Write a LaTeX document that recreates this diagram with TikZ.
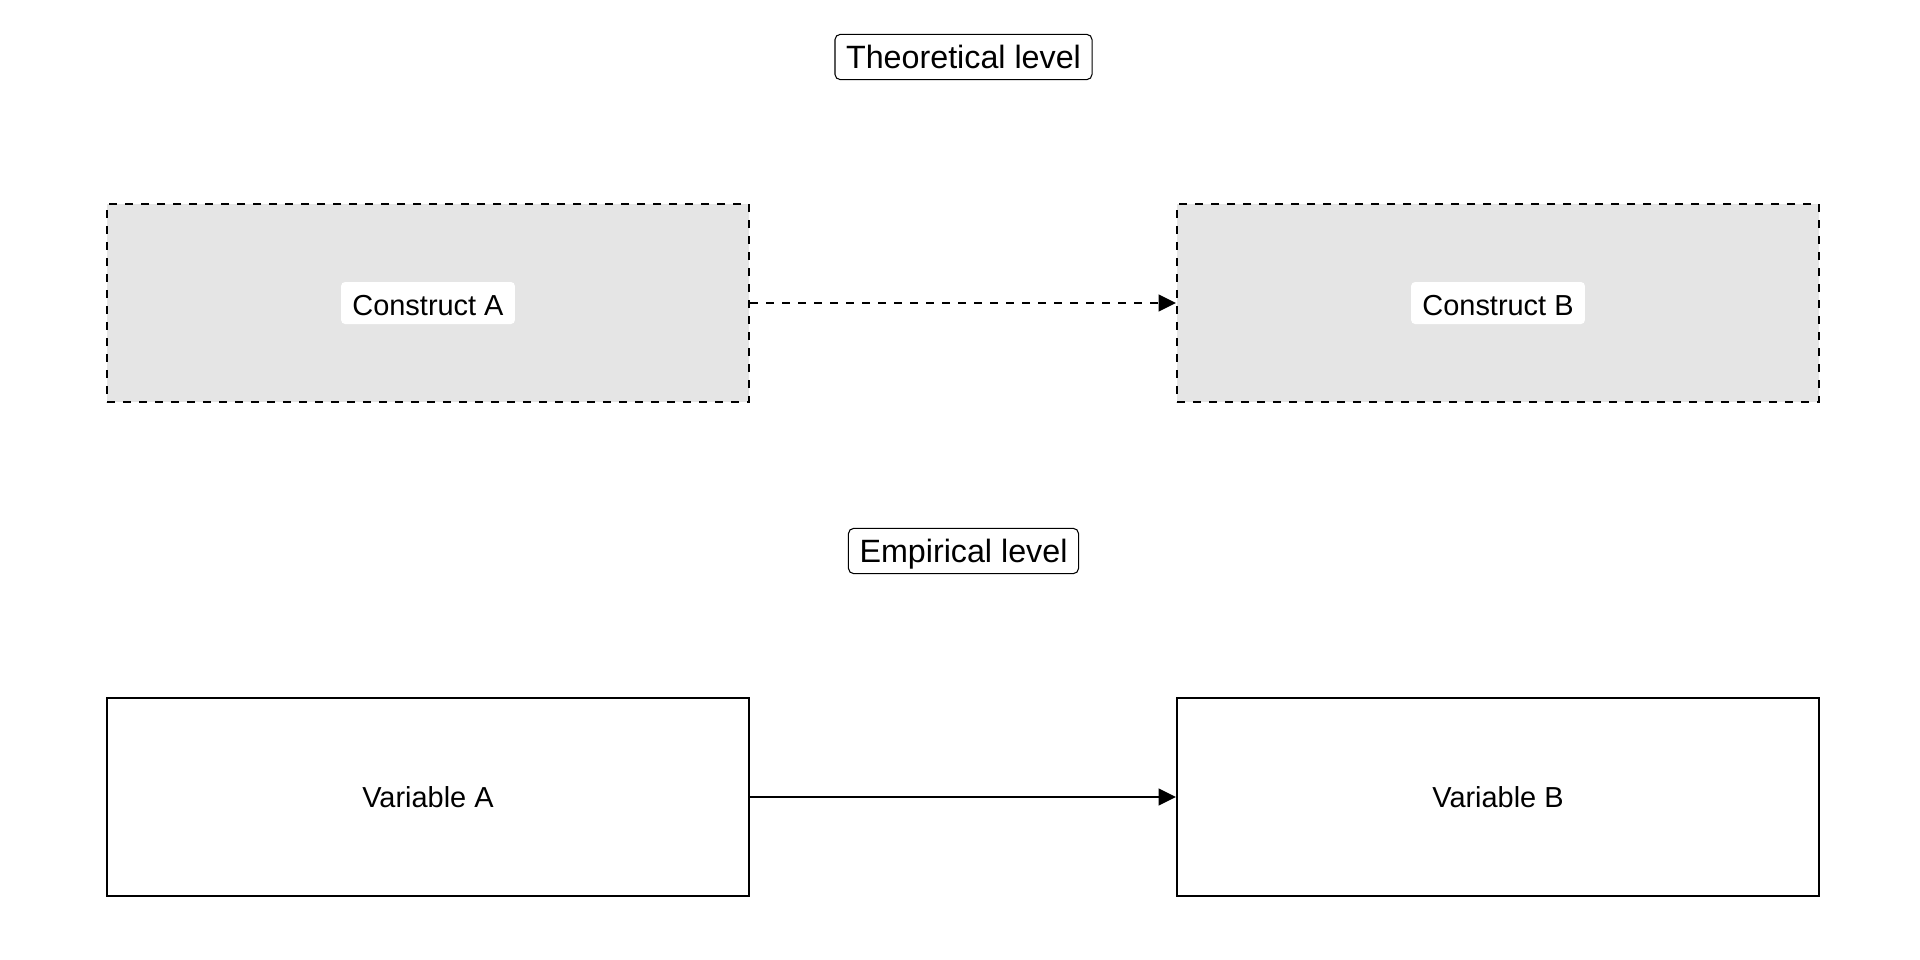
\documentclass[tikz,border=0pt]{standalone}
\usepackage{fontspec}
\setmainfont{Liberation Sans}
\usetikzlibrary{arrows.meta, positioning}
\definecolor{constructgray}{RGB}{229,229,229}

\begin{document}
\begin{tikzpicture}[
            x=0.75pt, y=-0.75pt, % one unit = one pixel, y goes down
            constructbox/.style={
                rectangle, % box of a construct
                draw, % border
                fill=constructgray, % light grey fill
                dash pattern=on 6pt off 6pt, % dashed border
                line width=1.5pt,
                minimum width=481.5pt,
                minimum height=148.5pt
            },
            variablebox/.style={
                rectangle, % box of a variable
                draw, % solid border
                line width=1.5pt,
                minimum width=481.5pt,
                minimum height=148.5pt,
                font=\fontsize{21.7}{26}\selectfont, % text size
                text height=15.6pt, text depth=0pt
            },
            namelabel/.style={
                fill=white, % white patch behind the name
                rounded corners=3pt,
                font=\fontsize{21.7}{26}\selectfont,
                text height=18.4pt, text depth=0pt,
                minimum height=31.5pt,
                inner xsep=8.5pt, inner ysep=0pt
            },
            levellabel/.style={
                draw, % thin frame
                line width=0.8pt,
                rounded corners=4pt,
                fill=white,
                font=\fontsize{24.2}{29}\selectfont,
                text height=22.3pt, text depth=4.8pt,
                minimum height=34pt,
                inner xsep=8.3pt, inner ysep=0pt
            },
            link/.style={line width=1.5pt, -{Triangle[length=13pt, width=12.5pt]}} % arrow between boxes
        ]
        \useasboundingbox (0,0) rectangle (1920,960);

        % theoretical level
        \node[levellabel] (theo) at (963.5,57) {Theoretical level};
        \node[constructbox] (ca) at (428,303) {};
        \node[constructbox, right=319.5pt of ca] (cb) {};
        \node[namelabel] (calab) at (ca) {Construct A};
        \node[namelabel] (cblab) at (cb) {Construct B};

        % empirical level
        \node[levellabel] (emp) at (963.5,551) {Empirical level};
        \node[variablebox, below=220.5pt of ca] (va) {Variable A};
        \node[variablebox, right=319.5pt of va] (vb) {Variable B};

        % arrows
        \draw[link, dash pattern=on 6pt off 6pt] (ca) -- (cb);
        \draw[link] (va) -- (vb);
        \end{tikzpicture}
\end{document}
